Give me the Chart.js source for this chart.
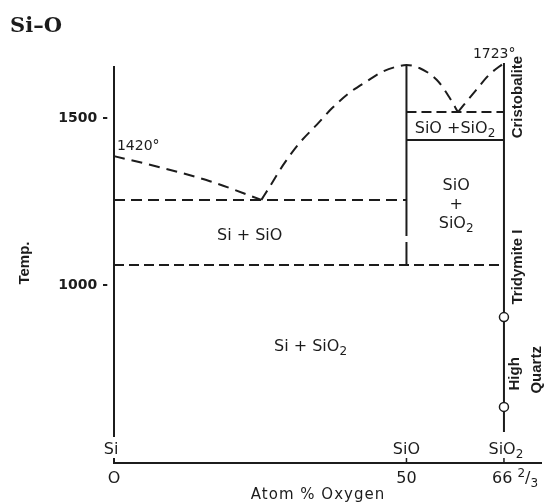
<!DOCTYPE html>
<html><head><meta charset="utf-8">
<script src="https://cdn.jsdelivr.net/npm/chart.js@4/dist/chart.umd.min.js"></script>
<style>html,body{margin:0;padding:0;background:#fff}#wrap{width:547px;height:503px}</style>
</head><body><div id="wrap"><canvas id="c" width="547" height="503"></canvas></div>
<script>
// ---- data (Atom % Oxygen, Temp.) ----
const xTickValues = [0, 50, 66.667];
const xTickLabels = ['O', '50', '66 ^2/_3'];
const compoundValues = [-0.5, 50, 67.0];
const compoundLabels = ['Si', 'SiO', 'SiO_2'];
const yTickValues = [1000, 1500];
const yTickLabels = ['1000 -', '1500 -'];

const liquidusSi = [[0,1386],[7.8,1353],[16.4,1311],[25.2,1255]];
const liquidusSiO = [[25.2,1255],[26.6,1294],[28.9,1359],[31.7,1425],[34.6,1479],[37.3,1530],[40.2,1575],[43.1,1609],[45.9,1639],[48.8,1656],[50,1659],[52.2,1650],[55.2,1614],[57.3,1563],[58.8,1518]];
const liquidusSiO2 = [[58.8,1518],[61.9,1584],[64.1,1629],[66.667,1665]];
const eutecticUpper = [[0,1255],[50,1255]];
const eutecticLower = [[0,1060],[66.667,1060]];
const eutecticSiO = [[50,1518],[66.667,1518]];
const solidusSiO = [[50,1434],[66.667,1434]];
const lineSiOSolid = [[50,1659],[50,1147]];
const lineSiODash = [[50,1129],[50,1060]];
const lineSiO2 = [[66.667,1665],[66.667,560]];
const transitions = [[66.667,904],[66.667,635]];

const annotations = [
  {t:'1420°', x:0.5, y:1419, align:'left', size:14},
  {t:'1723°', x:65.0, y:1695, size:14},
  {t:'Si + SiO', x:23.2, y:1153, size:16},
  {t:'Si + SiO_2', x:33.6, y:820, size:16},
  {t:'SiO +SiO_2', x:58.3, y:1473, size:16},
  {t:'SiO', x:58.5, y:1302, size:16},
  {t:'+', x:58.5, y:1246, size:16},
  {t:'SiO_2', x:58.5, y:1189, size:16},
  {t:'Cristobalite', x:68.9, y:1563, size:15, rot:true, bold:true, fam:'"Liberation Sans", Arial, sans-serif'},
  {t:'Tridymite I', x:68.9, y:1054, size:15, rot:true, bold:true, fam:'"Liberation Sans", Arial, sans-serif'},
  {t:'High', x:68.4, y:734, size:15, rot:true, bold:true, fam:'"Liberation Sans", Arial, sans-serif'},
  {t:'Quartz', x:72.1, y:746, size:15, rot:true, bold:true, fam:'"Liberation Sans", Arial, sans-serif'}
];

const INK = '#1c1c1c';
const SANS = '"DejaVu Sans", sans-serif';

function toPts(a){ return a.map(p => ({x:p[0], y:p[1]})); }
function lineDs(arr, dash, curve){
  return {data: toPts(arr), showLine:true, borderColor:INK, borderWidth:2, borderDash:dash||[],
    pointRadius:0, pointHoverRadius:0, fill:false, clip:false, order:1,
    tension: curve ? 0.4 : 0, cubicInterpolationMode: curve ? 'monotone' : 'default'};
}

function parse(text){
  const out=[]; let buf='';
  for(let i=0;i<text.length;i++){
    const c=text[i];
    if((c==='_'||c==='^') && i+1<text.length){
      if(buf){out.push({t:buf,s:0});buf='';}
      out.push({t:text[i+1], s: c==='_'?1:-1}); i++;
    } else buf+=c;
  }
  if(buf) out.push({t:buf,s:0});
  return out;
}
function drawRich(ctx, text, x, y, size, weight, fam, align){
  const segs = parse(text);
  const small = Math.round(size*0.72);
  let total = 0;
  segs.forEach(s => { ctx.font = weight+' '+(s.s?small:size)+'px '+fam; s.w = ctx.measureText(s.t).width; total += s.w; });
  let cx = align==='left' ? x : (align==='right' ? x-total : x-total/2);
  const base = y + size*0.36;
  ctx.textAlign='left'; ctx.textBaseline='alphabetic';
  segs.forEach(s => {
    ctx.font = weight+' '+(s.s?small:size)+'px '+fam;
    const dy = s.s===1 ? size*0.28 : (s.s===-1 ? -size*0.34 : 0);
    ctx.fillText(s.t, cx, base+dy);
    cx += s.w;
  });
}

const textPlugin = {
  id:'texts',
  afterDraw(chart){
    const ctx = chart.ctx, xs = chart.scales.x, ys = chart.scales.y;
    ctx.save();
    ctx.fillStyle = INK;
    // title
    ctx.font = 'bold 21px "DejaVu Serif", serif';
    ctx.textAlign='left'; ctx.textBaseline='alphabetic';
    ctx.fillText('Si–O', 10, 32);
    // annotations
    annotations.forEach(a => {
      const px = xs.getPixelForValue(a.x), py = ys.getPixelForValue(a.y);
      const fam = a.fam || SANS, w = a.bold ? 'bold' : 'normal';
      if(a.rot){
        ctx.save(); ctx.translate(px, py); ctx.rotate(-Math.PI/2);
        drawRich(ctx, a.t, 0, 0, a.size, w, fam, 'center');
        ctx.restore();
      } else {
        drawRich(ctx, a.t, px, py, a.size, w, fam, a.align||'center');
      }
    });
    // compound labels above x axis (gap in y axis behind "Si")
    const labY = xs.top - 15;
    compoundLabels.forEach((t,i) => {
      const px = xs.getPixelForValue(compoundValues[i]);
      if(i===0){ ctx.fillStyle='#fff'; ctx.fillRect(px-8, labY-11, 18, 21); ctx.fillStyle=INK; }
      drawRich(ctx, t, px, labY, 16, 'normal', SANS, 'center');
    });
    // x tick marks and labels
    ctx.strokeStyle = INK; ctx.lineWidth = 1.5;
    xTickValues.forEach((v,i) => {
      const px = xs.getPixelForValue(v);
      if(i>0){ ctx.beginPath(); ctx.moveTo(px, xs.top); ctx.lineTo(px, xs.top-5); ctx.stroke(); }
      if(i===2) drawRich(ctx, xTickLabels[i], px-12, xs.top+14, 16, 'normal', SANS, 'left');
      else drawRich(ctx, xTickLabels[i], px, xs.top+14, 16, 'normal', SANS, 'center');
    });
    // axis titles
    ctx.font = '15px '+SANS;
    try{ ctx.letterSpacing = '1px'; }catch(e){}
    ctx.textAlign='center'; ctx.textBaseline='middle';
    ctx.fillText('Atom % Oxygen', 318, 495);
    try{ ctx.letterSpacing = '0px'; }catch(e){}
    ctx.save(); ctx.translate(25, 263); ctx.rotate(-Math.PI/2);
    ctx.font = 'bold 15px "Liberation Sans", Arial, sans-serif';
    ctx.textAlign='center'; ctx.textBaseline='middle';
    ctx.fillText('Temp.', 0, 0);
    ctx.restore();
    ctx.restore();
  }
};

new Chart(document.getElementById('c'), {
  type:'scatter',
  data:{datasets:[
    lineDs(liquidusSi,[11,7],true),
    lineDs(liquidusSiO,[11,7],true),
    lineDs(liquidusSiO2,[11,7],true),
    lineDs(eutecticUpper,[11,6]),
    lineDs(eutecticLower,[10,5]),
    lineDs(eutecticSiO,[10,5]),
    lineDs(solidusSiO),
    lineDs(lineSiOSolid),
    lineDs(lineSiODash),
    lineDs(lineSiO2),
    {data:toPts(transitions), showLine:false, pointRadius:4.5, pointHoverRadius:4.5, order:0,
     pointBackgroundColor:'#fff', pointBorderColor:INK, pointBorderWidth:1.5, clip:false}
  ]},
  options:{
    responsive:false, animation:false, events:[],
    layout:{padding:{left:0, right:4, top:67, bottom:0}},
    plugins:{legend:{display:false}, tooltip:{enabled:false}},
    scales:{
      x:{type:'linear', min:0, max:73, grid:{display:false, drawTicks:false},
         border:{display:true, color:INK, width:2}, ticks:{display:false},
         afterFit(s){ s.height = 40; }},
      y:{type:'linear', min:467, max:1653, grid:{display:false, drawTicks:false},
         border:{display:true, color:INK, width:2},
         afterBuildTicks(s){ s.ticks = yTickValues.map(v => ({value:v})); },
         ticks:{color:INK, padding:6, font:{family:'"DejaVu Sans", sans-serif', size:14, weight:'bold'},
           callback(v){ const i = yTickValues.indexOf(v); return i>=0 ? yTickLabels[i] : ''; }},
         afterFit(s){ s.width = 114; }}
    }
  },
  plugins:[textPlugin]
});
</script></body></html>
